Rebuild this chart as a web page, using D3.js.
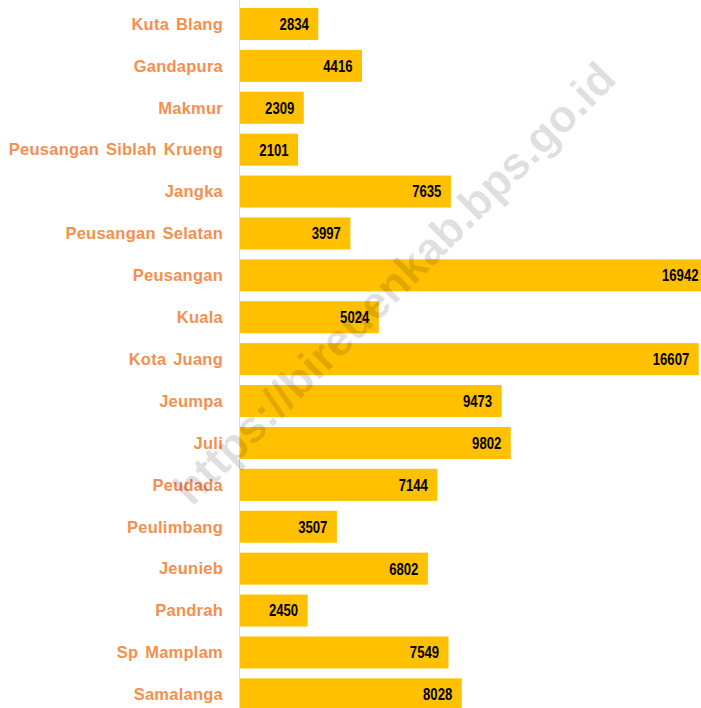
<!DOCTYPE html>
<html>
<head>
<meta charset="utf-8">
<script src="https://cdn.jsdelivr.net/npm/d3@7"></script>
<style>
  body { margin: 0; background: #fff; }
  svg { display: block; }
</style>
</head>
<body>
<div id="chart"></div>
<script>
var width = 701;
var height = 708;

var kecamatan = ["Kuta Blang", "Gandapura", "Makmur", "Peusangan Siblah Krueng", "Jangka",
  "Peusangan Selatan", "Peusangan", "Kuala", "Kota Juang", "Jeumpa", "Juli", "Peudada",
  "Peulimbang", "Jeunieb", "Pandrah", "Sp Mamplam", "Samalanga"];
var nilai = [2834, 4416, 2309, 2101, 7635, 3997, 16942, 5024, 16607, 9473, 9802, 7144,
  3507, 6802, 2450, 7549, 8028];
var watermark = "https://bireuenkab.bps.go.id";

var svg = d3.select("#chart").append("svg")
  .attr("width", width)
  .attr("height", height);

var x = d3.scaleLinear()
  .domain([0, d3.max(nilai)])
  .range([240, 708]);

var y = d3.scaleBand()
  .domain(kecamatan)
  .range([3, 715.3])
  .paddingInner(0.236)
  .paddingOuter(0.118);

var rows = kecamatan.map(function(k, i) { return { name: k, value: nilai[i] }; });

// axis line on the left of the bars
svg.append("line")
  .attr("x1", 239.5).attr("x2", 239.5)
  .attr("y1", 0).attr("y2", height)
  .attr("stroke", "#d9d9d9")
  .attr("stroke-width", 1);

svg.append("g")
  .selectAll("rect")
  .data(rows)
  .enter().append("rect")
    .attr("x", x(0))
    .attr("y", function(d) { return y(d.name); })
    .attr("width", function(d) { return x(d.value) - x(0); })
    .attr("height", y.bandwidth())
    .attr("fill", "#FFC000");

svg.append("g")
  .selectAll("text")
  .data(rows)
  .enter().append("text")
    .attr("x", 223)
    .attr("y", function(d) { return y(d.name) + y.bandwidth() / 2; })
    .attr("dy", "0.35em")
    .attr("text-anchor", "end")
    .attr("font-family", "'Liberation Sans', Arial, sans-serif")
    .attr("font-weight", "bold")
    .attr("font-size", 16.5)
    .attr("letter-spacing", 0.25)
    .attr("word-spacing", 2)
    .attr("fill", "#F58F4E")
    .text(function(d) { return d.name; });

// values: squeezed horizontally to look like Arial Narrow
svg.append("g")
  .selectAll("text")
  .data(rows)
  .enter().append("text")
    .attr("transform", function(d) {
      return "translate(" + (x(d.value) - 9.5) + "," + (y(d.name) + y.bandwidth() / 2) + ") scale(0.82,1)";
    })
    .attr("dy", "0.37em")
    .attr("text-anchor", "end")
    .attr("font-family", "'Liberation Sans', Arial, sans-serif")
    .attr("font-weight", "bold")
    .attr("font-size", 16)
    .attr("fill", "#000")
    .text(function(d) { return d.value; });

// watermark
svg.append("text")
  .attr("transform", "translate(394,283) rotate(-45)")
  .attr("text-anchor", "middle")
  .attr("dy", "0.35em")
  .attr("font-family", "'Liberation Sans', Arial, sans-serif")
  .attr("font-weight", "bold")
  .attr("font-size", 45)
  .attr("fill", "#000")
  .attr("fill-opacity", 0.12)
  .text(watermark);
</script>
</body>
</html>
